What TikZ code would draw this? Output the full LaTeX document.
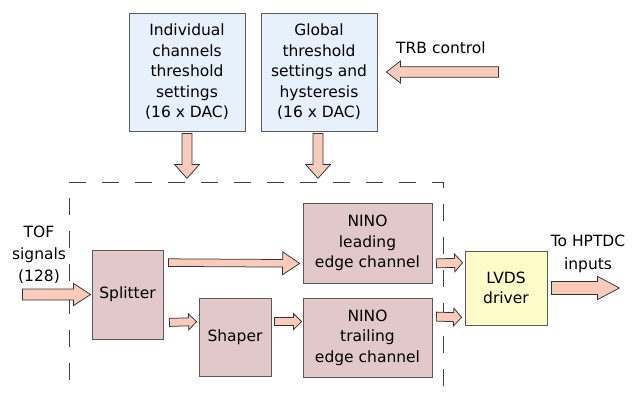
\documentclass[tikz,border=0pt]{standalone}
\usepackage{fontspec}
\setmainfont{DejaVu Sans}
\usetikzlibrary{calc}

\definecolor{cfgblue}{HTML}{E7F1FB}
\definecolor{blockrose}{HTML}{E2C8C8}
\definecolor{drvyellow}{HTML}{FDFCC8}
\definecolor{arrowpeach}{HTML}{F8CBBA}
\definecolor{edgegray}{HTML}{5A5A5A}

\tikzset{
  lbl/.style={font=\fontsize{15.5}{20.5}\selectfont, align=center},
  blk/.style={lbl, draw=edgegray, line width=0.8pt, inner sep=0pt},
  cfgbox/.style={blk, fill=cfgblue, minimum width=116, minimum height=118},
  procbox/.style={blk, fill=blockrose},
  drvbox/.style={blk, fill=drvyellow, minimum width=82, minimum height=74},
  barrow/.style={draw=black!80, line width=0.75pt, fill=arrowpeach, line join=miter},
  frame/.style={draw=black!75, line width=0.6pt, dash pattern=on 17pt off 16pt},
}

% block arrow: #1 start, #2 tip, #3 half shaft width, #4 half head width, #5 head length
\newcommand\blockarrow[5]{%
  \draw[barrow] let \p1=#1, \p2=#2, \p3=($(\p2)!#5!(\p1)$) in
    ($(\p1)!#3!90:(\p2)$) -- ($(\p3)!#3!-90:(\p1)$) -- ($(\p3)!#4!-90:(\p1)$)
    -- (\p2) -- ($(\p3)!#4!90:(\p1)$) -- ($(\p3)!#3!90:(\p1)$)
    -- ($(\p1)!#3!-90:(\p2)$) -- cycle;}

\begin{document}
\begin{tikzpicture}[x=1pt, y=-1pt]
\useasboundingbox (0,0) rectangle (635,392);

% threshold configuration blocks
\node[cfgbox] (ind)  at (187,72) {Individual\\channels\\threshold\\settings\\(16 x DAC)};
\node[cfgbox] (glob) at (319,72) {Global\\threshold\\settings and\\hysteresis\\(16 x DAC)};
\node[lbl] (trb) at (441,48) {TRB control};

% front-end board outline (open at the bottom)
\draw[frame] (69,182) -- (443,182) -- (443,392);
\draw[frame] (69,198) -- (69,392);

% signal chain
\node[procbox, minimum width=71, minimum height=89] (split) at (127.5,294.5) {Splitter};
\node[procbox, minimum width=72, minimum height=78] (shaper) at (235,337) {Shaper};
\node[procbox, minimum width=129, minimum height=80] (lead) at (367.5,243) {NINO\\leading\\edge channel};
\node[procbox, minimum width=129, minimum height=79] (trail) at (367.5,337.5) {NINO\\trailing\\edge channel};
\node[drvbox] (lvds) at (506,288) {LVDS\\driver};

\node[lbl, font=\fontsize{15.5}{22}\selectfont] (tof) at (39,255) {TOF\\signals\\(128)};
\node[lbl, font=\fontsize{15.5}{22.5}\selectfont] (out) at (588,254) {To HPTDC\\inputs};

% arrows
\blockarrow{($(glob.east)+(121,0)$)}{($(glob.east)+(9,0)$)}{5.3pt}{11pt}{14pt}
\blockarrow{($(ind.south)+(0,2)$)}{($(ind.south)+(0,47)$)}{5pt}{12.5pt}{14pt}
\blockarrow{($(glob.south)+(-1,2)$)}{($(glob.south)+(-1,47)$)}{5pt}{12.5pt}{14pt}
\blockarrow{($(split.west)+(-69,0)$)}{($(split.west)+(-1,0)$)}{5.5pt}{11pt}{17pt}
\blockarrow{($(split.north east)+(5,13)$)}{($(lead.south west)+(-3,-20)$)}{3.8pt}{11.5pt}{17pt}
\blockarrow{($(split.south east)+(6,-17)$)}{($(shaper.north west)+(-2,24)$)}{4pt}{8pt}{8pt}
\blockarrow{($(shaper.north east)+(3,24)$)}{($(trail.north west)+(-1,24)$)}{4pt}{8pt}{8pt}
\blockarrow{($(lead.south east)+(4,-20)$)}{($(lvds.north west)+(-2,12)$)}{4.5pt}{9pt}{8pt}
\blockarrow{($(trail.north east)+(4,19)$)}{($(lvds.south west)+(-3,-8)$)}{4.5pt}{9pt}{8pt}
\blockarrow{($(lvds.east)+(4,0)$)}{($(lvds.east)+(72,0)$)}{6.5pt}{11.7pt}{22pt}
\end{tikzpicture}
\end{document}
